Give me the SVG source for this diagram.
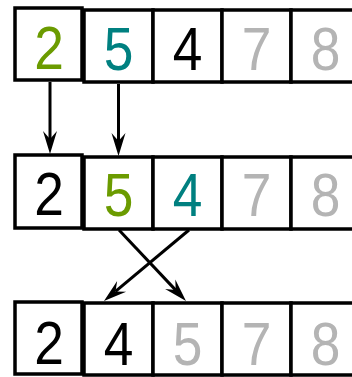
<svg xmlns="http://www.w3.org/2000/svg" width="352" height="377" viewBox="0 0 352 377">
<style>
rect{fill:#fff;stroke:#000;stroke-width:3.5}
text{font-family:"Liberation Sans",Arial,sans-serif;font-size:62px;text-anchor:middle}
.k{fill:#000}.g{fill:#6b9b00}.t{fill:#008080}.s{fill:#b4b4b4}
.c line{stroke:#000;stroke-width:3;fill:none}
</style>
<defs>
<marker id="ah" markerUnits="userSpaceOnUse" markerWidth="30" markerHeight="20" viewBox="-10 -10 30 20" refX="0" refY="0" orient="auto">
<path d="M15,0 L-8,-7 L0,0 L-8,7 Z" fill="#000"/>
</marker>
</defs>
<g id="row1">
<g id="r1c1"><rect x="15" y="8" width="67" height="72"/><text class="g" transform="translate(49,69) scale(0.86,1)">2</text></g>
<g id="r1c2"><rect x="84" y="10" width="69" height="72"/><text class="t" transform="translate(118.5,70) scale(0.86,1)">5</text></g>
<g id="r1c3"><rect x="153" y="10" width="69" height="72"/><text class="k" transform="translate(187.5,70) scale(0.86,1)">4</text></g>
<g id="r1c4"><rect x="222" y="10" width="69" height="72"/><text class="s" transform="translate(256.5,70) scale(0.86,1)">7</text></g>
<g id="r1c5"><rect x="291" y="10" width="69" height="72"/><text class="s" transform="translate(325.5,70) scale(0.86,1)">8</text></g>
</g>
<g id="row2">
<g id="r2c1"><rect x="15" y="155" width="67" height="73"/><text class="k" transform="translate(49,215) scale(0.86,1)">2</text></g>
<g id="r2c2"><rect x="84" y="157" width="69" height="72"/><text class="g" transform="translate(118.5,216) scale(0.86,1)">5</text></g>
<g id="r2c3"><rect x="153" y="157" width="69" height="72"/><text class="t" transform="translate(187.5,216) scale(0.86,1)">4</text></g>
<g id="r2c4"><rect x="222" y="157" width="69" height="72"/><text class="s" transform="translate(256.5,216) scale(0.86,1)">7</text></g>
<g id="r2c5"><rect x="291" y="157" width="69" height="72"/><text class="s" transform="translate(325.5,216) scale(0.86,1)">8</text></g>
</g>
<g id="row3">
<g id="r3c1"><rect x="15" y="302" width="67" height="72"/><text class="k" transform="translate(49,364) scale(0.86,1)">2</text></g>
<g id="r3c2"><rect x="84" y="303" width="69" height="72"/><text class="k" transform="translate(118.5,365) scale(0.86,1)">4</text></g>
<g id="r3c3"><rect x="153" y="303" width="69" height="72"/><text class="s" transform="translate(187.5,365) scale(0.86,1)">5</text></g>
<g id="r3c4"><rect x="222" y="303" width="69" height="72"/><text class="s" transform="translate(256.5,365) scale(0.86,1)">7</text></g>
<g id="r3c5"><rect x="291" y="303" width="69" height="72"/><text class="s" transform="translate(325.5,365) scale(0.86,1)">8</text></g>
</g>
<g id="connectors" class="c">
<line x1="50" y1="82" x2="50" y2="139" marker-end="url(#ah)"/>
<line x1="118.5" y1="84" x2="118.5" y2="141" marker-end="url(#ah)"/>
<line x1="119" y1="230" x2="175.7" y2="290.1" marker-end="url(#ah)"/>
<line x1="189" y1="230" x2="115.5" y2="291.4" marker-end="url(#ah)"/>
</g>
</svg>
